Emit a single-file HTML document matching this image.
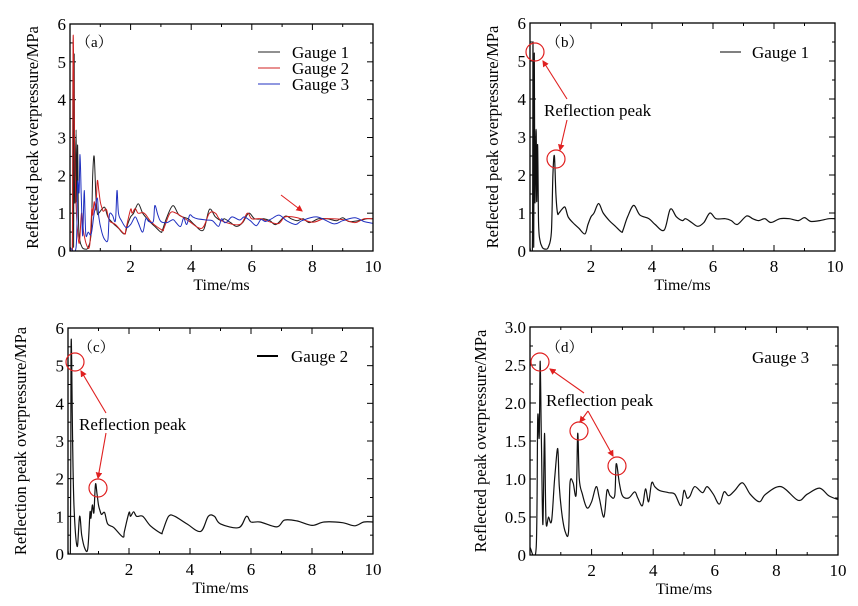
<!DOCTYPE html>
<html><head><meta charset="utf-8"><style>
body{margin:0;background:#fff}
svg text{font-family:"Liberation Serif","Noto Serif CJK SC",serif}
</style></head><body>
<svg id="fig" width="858" height="601"></svg>
<script>
const g1T=[0,0.08,0.1,0.12,0.14,0.16,0.2,0.22,0.25,0.28,0.32,0.4,0.5,0.6,0.7,0.75,0.8,0.85,0.9,0.95,1.05,1.15,1.25,1.4,1.6,1.8,1.9,2.0,2.1,2.25,2.4,2.6,2.8,3.0,3.05,3.2,3.4,3.6,3.9,4.1,4.4,4.6,4.8,5.0,5.1,5.3,5.5,5.7,5.9,6.1,6.4,6.6,6.8,7.1,7.3,7.5,7.7,7.9,8.2,8.5,8.8,9.0,9.2,9.5,9.8,10];
const g1V=[0.1,0.1,5.5,0.1,5.2,1.3,3.2,1.3,2.8,0.8,0.3,0.1,0.05,0.1,0.5,2.0,2.5,1.5,1.0,1.0,1.1,1.15,0.9,0.75,0.6,0.45,0.7,0.9,1.0,1.25,1.0,0.8,0.65,0.5,0.55,0.9,1.2,0.95,0.85,0.7,0.55,1.1,0.9,0.8,0.85,0.75,0.65,0.75,1.0,0.85,0.85,0.8,0.7,0.92,0.85,0.8,0.85,0.75,0.85,0.85,0.8,0.88,0.78,0.8,0.85,0.85];
const g2T=[0,0.08,0.1,0.12,0.15,0.2,0.3,0.38,0.45,0.55,0.65,0.72,0.75,0.8,0.85,0.9,0.95,1.0,1.05,1.1,1.2,1.3,1.5,1.8,1.85,2.0,2.05,2.15,2.25,2.45,2.7,3.05,3.1,3.3,3.5,3.9,4.35,4.6,4.8,5.0,5.6,5.85,6.0,6.3,6.85,7.1,7.5,8.0,8.4,9.0,9.4,9.7,10];
const g2V=[0.1,0.1,5.3,5.1,3,1.2,0.2,1.0,0.5,0.15,0.15,1.1,0.95,1.3,1.1,1.85,1.6,1.3,1.15,1.05,1.1,0.8,0.7,0.45,0.6,1.1,1.0,1.12,1.0,1.0,0.75,0.55,0.6,1.0,1.0,0.8,0.6,1.0,1.0,0.8,0.7,1.0,0.85,0.85,0.72,0.9,0.88,0.76,0.85,0.83,0.75,0.85,0.85];
const g3T=[0,0.2,0.25,0.3,0.33,0.37,0.42,0.47,0.52,0.6,0.7,0.8,0.9,0.95,1.05,1.15,1.25,1.3,1.4,1.5,1.55,1.6,1.7,1.85,2.0,2.15,2.25,2.4,2.5,2.6,2.75,2.8,2.9,3.0,3.2,3.4,3.5,3.65,3.75,3.85,3.95,4.05,4.2,4.5,4.7,4.9,5.0,5.1,5.2,5.35,5.6,5.75,5.95,6.15,6.3,6.45,6.65,6.9,7.15,7.45,7.65,8.15,8.7,9.0,9.4,9.7,10];
const g3V=[0.1,0.1,1.8,1.55,2.55,1.5,0.4,1.6,0.45,0.5,0.45,1.0,1.4,0.9,0.5,0.3,0.3,0.95,0.95,0.8,1.6,1.0,0.8,0.62,0.7,0.9,0.75,0.5,0.85,0.78,0.78,1.2,0.95,0.78,0.75,0.83,0.75,0.65,0.87,0.7,0.95,0.9,0.85,0.82,0.8,0.65,0.85,0.75,0.78,0.9,0.82,0.9,0.8,0.67,0.83,0.78,0.85,0.95,0.8,0.7,0.8,0.9,0.72,0.8,0.88,0.78,0.73];
const xTicks=[2,4,6,8,10];
const yTicks6=[0,1,2,3,4,5,6];
const yTicks3=["0","0.5","1.0","1.5","2.0","2.5","3.0"];

const NS="http://www.w3.org/2000/svg";
const svg=document.getElementById('fig');
function mk(tag,attrs,parent){const e=document.createElementNS(NS,tag);for(const k in attrs)e.setAttribute(k,attrs[k]);(parent||svg).appendChild(e);return e;}
function txt(s,attrs,parent){attrs['font-family']='Liberation Serif, serif';const e=mk('text',attrs,parent);e.textContent=s;return e;}

function smoothPath(pts){
  let d='M'+pts[0][0].toFixed(1)+','+pts[0][1].toFixed(1);
  for(let i=0;i<pts.length-1;i++){
    const p0=pts[Math.max(i-1,0)],p1=pts[i],p2=pts[i+1],p3=pts[Math.min(i+2,pts.length-1)];
    const k=1/6;
    const c1=[p1[0]+(p2[0]-p0[0])*k,p1[1]+(p2[1]-p0[1])*k];
    const c2=[p2[0]-(p3[0]-p1[0])*k,p2[1]-(p3[1]-p1[1])*k];
    d+='C'+c1[0].toFixed(1)+','+c1[1].toFixed(1)+' '+c2[0].toFixed(1)+','+c2[1].toFixed(1)+' '+p2[0].toFixed(1)+','+p2[1].toFixed(1);
  }
  return d;
}

function panel(id,L,R,T,B,ymax,yLabels,ytitle,ytitleX,series,yminorStep){
  const g=mk('g',{});
  
  
  const sx=t=>L+(t/10)*(R-L);
  const sy=v=>B-(v/ymax)*(B-T);
  const clip=mk('clipPath',{id:'clip-'+id},g);
  mk('rect',{x:L,y:T,width:R-L,height:B-T},clip);
  for(let t=1;t<=9;t++){
    const len=t%2===0?6:3;
    mk('line',{x1:sx(t),x2:sx(t),y1:B,y2:B-len,stroke:'#000','stroke-width':1},g);
    mk('line',{x1:sx(t),x2:sx(t),y1:T,y2:T+len,stroke:'#000','stroke-width':1},g);
  }
  const nMinor=Math.round(ymax/yminorStep);
  for(let i=1;i<nMinor;i++){
    const v=i*yminorStep;const major=i%2===0;const len=major?6:3;
    mk('line',{x1:L,x2:L+len,y1:sy(v),y2:sy(v),stroke:'#000','stroke-width':1},g);
    mk('line',{x1:R,x2:R-len,y1:sy(v),y2:sy(v),stroke:'#000','stroke-width':1},g);
  }
  xTicks.forEach(t=>{
    const e=txt(String(t),{x:sx(t),y:B+21,'text-anchor':'middle','font-size':17},g);
    
    
  });
  yLabels.forEach((s,i)=>{
    const v=i*ymax/(yLabels.length-1);
    const e=txt(String(s),{x:L-4,y:sy(v)+6,'text-anchor':'end','font-size':17},g);
    
    
  });
  const xt=txt('Time/ms',{x:(L+R)/2,y:B+39,'text-anchor':'middle','font-size':16},g);
  
  
  const yt=txt(ytitle,{x:0,y:0,'text-anchor':'middle','font-size':16.5,transform:`translate(${ytitleX},${(T+B)/2}) rotate(-90)`},g);
  
  
  series.forEach(s=>{
    const pts=s.t.map((t,i)=>[sx(t),sy(Math.min(s.v[i],ymax))]);
    const p=mk('path',{d:smoothPath(pts),fill:'none',stroke:s.c,'stroke-width':s.w||1.2,'clip-path':'url(#clip-'+id+')'},g);
    
    
  });
  const fr=mk('rect',{x:L,y:T,width:R-L,height:B-T,fill:'none',stroke:'#000','stroke-width':1.3},g);
  
  
  return g;
}

const ga=panel('a',70,373,24,251,6,yTicks6,'Reflected peak overpressure/MPa',38,[
  {t:g1T,v:g1V,c:'#222',name:'gauge-1-line',w:1},
  {t:g2T,v:g2V,c:'#d02020',name:'gauge-2-line',w:1},
  {t:g3T,v:g3V,c:'#2030c0',name:'gauge-3-line',w:1}],0.5);
const gb=panel('b',530,835,23,251,6,yTicks6,'Reflected peak overpressure/MPa',498,[{t:g1T,v:g1V,c:'#111',name:'gauge-1-line'}],0.5);
const gc=panel('c',68,373,328,554,6,yTicks6,'Reflection peak overpressure/MPa',26,[{t:g2T,v:g2V,c:'#111',name:'gauge-2-line'}],0.5);
const gd=panel('d',530,838,327,555,3,yTicks3,'Reflected peak overpressure/MPa',486,[{t:g3T,v:g3V,c:'#111',name:'gauge-3-line'}],0.25);

function label(s,x,y,g,size,name){const e=txt(s,{x:x,y:y,'font-size':size||15},g);return e;}
label('（a）',76,47,ga,15,'panel-label');
label('（b）',546,47,gb,15,'panel-label');
label('（c）',78,352,gc,15,'panel-label');
label('（d）',546,352,gd,15,'panel-label');

[['Gauge 1','#222',52],['Gauge 2','#d02020',68],['Gauge 3','#2030c0',84]].forEach(l=>{
  const lg=mk('g',{},ga);
  
  
  mk('line',{x1:258,x2:280,y1:l[2],y2:l[2],stroke:l[1],'stroke-width':1},lg);
  txt(l[0],{x:292,y:l[2]+6,'font-size':17},lg);
});
function leg(g,x1,x2,tx,y,s,w){const lg=mk('g',{},g);
  if(x1!==null)mk('line',{x1:x1,x2:x2,y1:y,y2:y,stroke:'#000','stroke-width':w},lg);txt(s,{x:tx,y:y+6,'font-size':17},lg);}
leg(gb,720,741,752,52,'Gauge 1',1);
leg(gc,257,278,291,356,'Gauge 2',2);
leg(gd,null,null,752,357,'Gauge 3',1);

const defs=mk('defs',{});
const mrk=mk('marker',{id:'ah',markerWidth:6,markerHeight:6,refX:5,refY:3,orient:'auto'},defs);
mk('path',{d:'M0,0L6,3L0,6z',fill:'#e02020'},mrk);
function circ(g,cx,cy){const c=mk('circle',{cx:cx,cy:cy,r:9,fill:'none',stroke:'#e02020','stroke-width':1.2},g);}
function arr(g,x1,y1,x2,y2){const a=mk('line',{x1:x1,y1:y1,x2:x2,y2:y2,stroke:'#e02020','stroke-width':1.1,'marker-end':'url(#ah)'},g);}
arr(ga,281,195,302,211);
circ(gb,535,52);circ(gb,556,159);
label('Reflection peak',544,116,gb,17,'annotation-text');
arr(gb,567,99,543,61);arr(gb,567,120,560,150);
circ(gc,75,362);circ(gc,98,488);
label('Reflection peak',79,430,gc,17,'annotation-text');
arr(gc,106,413,81,371);arr(gc,106,433,98,478);
circ(gd,540,362);circ(gd,579,431);circ(gd,617,466);
label('Reflection peak',546,406,gd,17,'annotation-text');
arr(gd,584,393,550,369);arr(gd,588,411,580,422);arr(gd,588,411,613,456);
</script>
</body></html>
